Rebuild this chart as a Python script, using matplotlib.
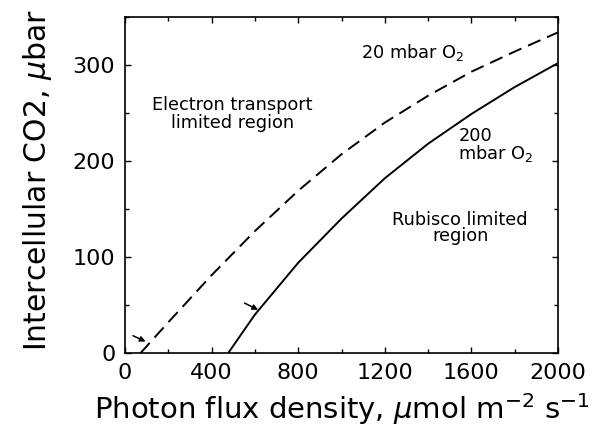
"""Intercellular CO2 vs photon flux density, 20 and 200 mbar O2."""

import matplotlib
matplotlib.use('Agg')
import matplotlib.pyplot as plt
from matplotlib.ticker import MultipleLocator

# curve
ppfd_20 = [72, 200, 400, 600, 800, 1000, 1200, 1400, 1600, 1800, 2000]
ci_20 = [0, 32, 81, 127, 169, 207, 240, 268, 293, 314, 334]

ppfd_200 = [477, 600, 800, 1000, 1200, 1400, 1600, 1800, 2000]
ci_200 = [0, 40, 94, 140, 182, 218, 249, 277, 302]

# small arrows pointing onto the curves (tail, head)
arrow_20 = ((37, 18), (95, 12))
arrow_200 = ((552, 52), (615, 45))

plt.rcParams['font.family'] = ['DejaVu Sans']

fig = plt.figure(figsize=(6.03, 4.36), dpi=100)
ax = fig.add_axes([0.2073, 0.1904, 0.7181, 0.7706])

ax.plot(ppfd_20, ci_20, color='black', lw=1.4, ls=(0, (7, 3.7)))
ax.plot(ppfd_200, ci_200, color='black', lw=1.4)

for tail, head in (arrow_20, arrow_200):
  ax.annotate('', xy=head, xytext=tail,
              arrowprops=dict(arrowstyle='-|>', lw=1.1, color='black',
                              mutation_scale=8, shrinkA=0, shrinkB=0))

ax.set_xlim(0, 2000)
ax.set_ylim(0, 350)
ax.xaxis.set_major_locator(MultipleLocator(400))
ax.xaxis.set_minor_locator(MultipleLocator(200))
ax.yaxis.set_major_locator(MultipleLocator(100))
ax.yaxis.set_minor_locator(MultipleLocator(50))
ax.tick_params(which='both', direction='in', top=True, right=True,
               width=1.0, labelsize=16, pad=7)
ax.tick_params(which='major', length=4.5)
ax.tick_params(which='minor', length=3)
for s in ax.spines.values():
  s.set_linewidth(1.2)

ax.set_xlabel(r'Photon flux density, $\mu$mol m$^{-2}$ s$^{-1}$', fontsize=21)
ax.set_ylabel(r'Intercellular CO2, $\mu$bar', fontsize=21.5)
ax.xaxis.set_label_coords(0.5, -0.112)
ax.yaxis.set_label_coords(-0.165, 0.515)

tkw = dict(fontsize=12.8, color='black')
ax.text(1330, 313, r'20 mbar O$_2$', ha='center', va='center', **tkw)
ax.text(495, 249, 'Electron transport\nlimited region', ha='center', va='center',
        linespacing=0.95, **tkw)
ax.text(1540, 216, '200\n' + r'mbar O$_2$', ha='left', va='center',
        linespacing=0.9, **tkw)
ax.text(1548, 130, 'Rubisco limited\nregion', ha='center', va='center',
        linespacing=0.9, **tkw)

fig.savefig('out.png', dpi=100)
